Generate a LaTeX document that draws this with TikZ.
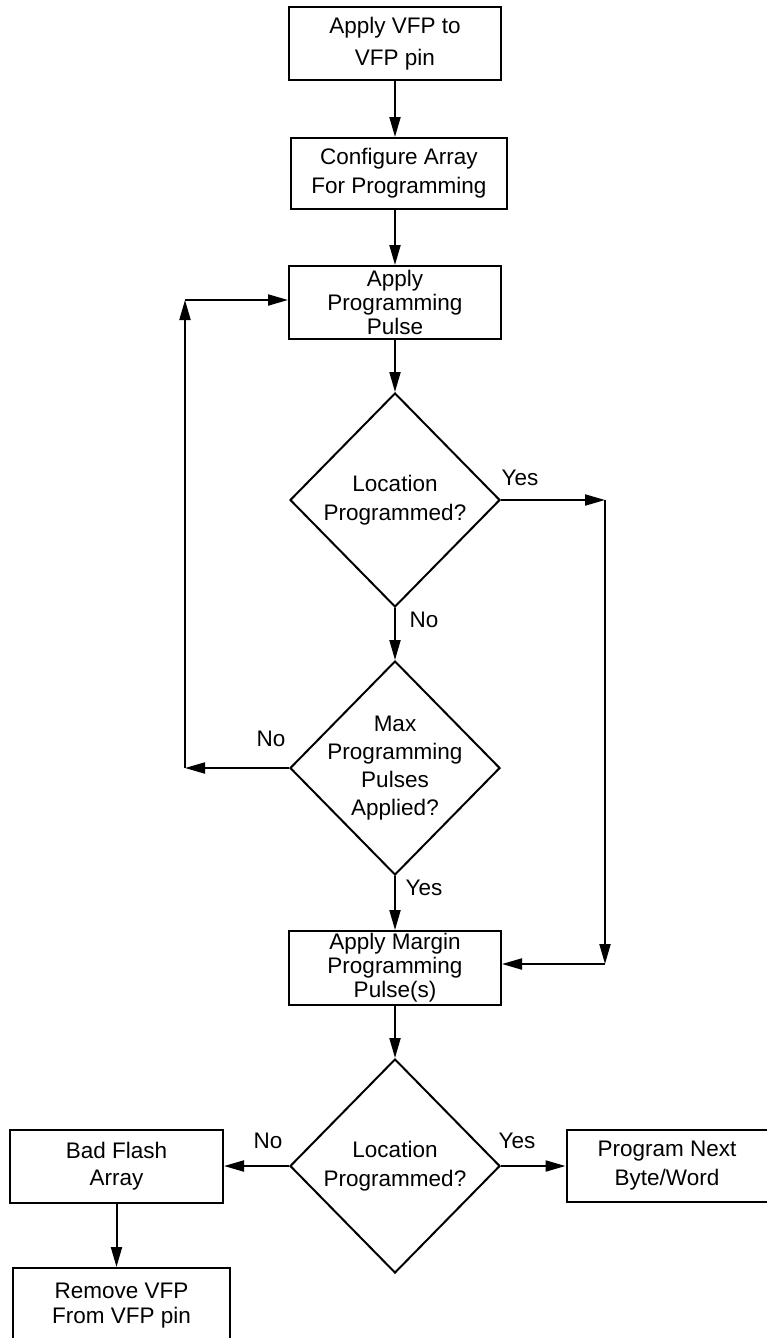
\documentclass[tikz,border=0pt]{standalone}
\usepackage{fontspec}
\setmainfont{Liberation Sans}
\usetikzlibrary{shapes.geometric,arrows.meta}

\begin{document}
\begin{tikzpicture}[
    x=1pt, y=-1pt,
    process/.style={rectangle, draw=black, line width=2pt, fill=white,
        minimum width=212pt, minimum height=73pt, inner sep=2pt, align=center,
        font=\fontsize{22.5}{29}\selectfont},
    tight/.style={font=\fontsize{22.5}{24}\selectfont},
    decision/.style={diamond, draw=black, line width=2pt, fill=white,
        minimum width=210pt, minimum height=214pt, inner sep=0pt},
    question/.style={align=center, font=\fontsize{22.5}{29.5}\selectfont},
    answer/.style={inner sep=0pt, font=\fontsize{22.5}{27}\selectfont},
    edge/.style={line width=2pt, -{Triangle[length=20pt,width=11pt]}}
]
    \useasboundingbox (0,0) rectangle (767,1338);

    \node[process, font=\fontsize{22.5}{32}\selectfont] (apply) at (395,43.5) {Apply VFP to\\VFP pin};
    \node[process, minimum width=216pt, minimum height=71pt] (config) at (399,173.5) {Configure Array\\For Programming};
    \node[process, tight] (pulse) at (395,302.5) {Apply\\Programming\\Pulse};
    \node[decision] (loc) at (395,500) {};
    \node[question] (loctext) at (loc) {Location\\Programmed?};
    \node[decision] (max) at (395,768) {};
    \node[question, font=\fontsize{22.5}{28}\selectfont] (maxtext) at (max) {Max\\Programming\\Pulses\\Applied?};
    \node[process, tight, minimum height=74pt] (margin) at (395,968) {Apply Margin\\Programming\\Pulse(s)};
    \node[decision] (verify) at (395,1166) {};
    \node[question] (verifytext) at (verify) {Location\\Programmed?};
    \node[process, minimum width=213pt, font=\fontsize{22.5}{27}\selectfont] (bad) at (116.5,1166) {Bad Flash\\Array};
    \node[process, minimum width=201pt, minimum height=72pt] (next) at (667,1166) {Program Next\\Byte/Word};
    \node[process, minimum width=217pt, minimum height=76pt, font=\fontsize{22.5}{25}\selectfont] (remove) at (121.5,1306) {Remove VFP\\From VFP pin};

    % answer labels
    \node[answer] (yesloc) at (520,478) {Yes};
    \node[answer] (noloc) at (424,620) {No};
    \node[answer] (nomax) at (271,739) {No};
    \node[answer] (yesmax) at (424,888) {Yes};
    \node[answer] (noverify) at (268,1141) {No};
    \node[answer] (yesverify) at (517,1141) {Yes};

    % corners of the side paths
    \coordinate (yesturn) at (605,500);
    \coordinate (yesjoin) at (605,964);
    \coordinate (noturn) at (185,768);
    \coordinate (nojoin) at (185,300);

    \draw[edge] (apply.south) -- (apply.south |- config.north);
    \draw[edge] (pulse.north |- config.south) -- (pulse.north);
    \draw[edge] (pulse.south) -- (loc.north);
    \draw[edge] (loc.south) -- (max.north);
    \draw[edge] (max.south) -- (margin.north);
    \draw[edge] (loc.east) -- (yesturn);
    \draw[edge] (yesturn) -- (yesjoin);
    \draw[edge] (yesjoin) -- (margin.east |- yesjoin);
    \draw[edge] (max.west) -- (noturn);
    \draw[edge] (noturn) -- (nojoin);
    \draw[edge] (nojoin) -- (pulse.west |- nojoin);
    \draw[edge] (margin.south) -- (verify.north);
    \draw[edge] (verify.west) -- (bad.east);
    \draw[edge] (verify.east) -- (next.west);
    \draw[edge] (bad.south) -- (bad.south |- remove.north);
\end{tikzpicture}
\end{document}
